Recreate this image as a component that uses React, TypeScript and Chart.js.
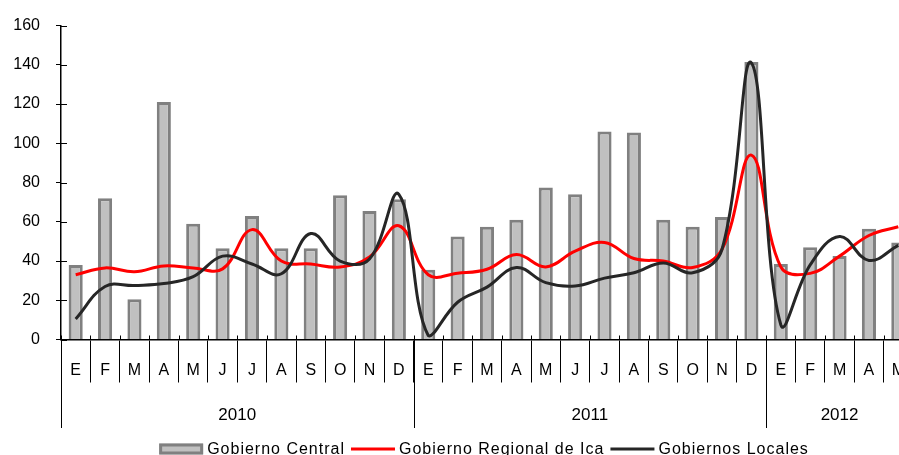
import React, { useEffect, useRef } from "react";
import { Chart, registerables } from "chart.js";

Chart.register(...registerables);

// Category (month) labels: 2010 E..D, 2011 E..D, 2012 E..M
const months: string[] = [
  "E", "F", "M", "A", "M", "J", "J", "A", "S", "O", "N", "D",
  "E", "F", "M", "A", "M", "J", "J", "A", "S", "O", "N", "D",
  "E", "F", "M", "A", "M",
];
const yearLabels: string[] = ["2010", "2011", "2012"];
const yearStarts: number[] = [0, 12, 24];
const yearCounts: number[] = [12, 12, 5];

const seriesNames: string[] = ["Gobierno Central", "Gobierno Regional de Ica", "Gobiernos Locales"];

const gobiernoCentral: number[] = [
  38, 72, 20.5, 121, 59, 46.5, 63, 46.5, 46.5, 73.5, 65.5, 71.5,
  35.5, 52.5, 57.5, 61, 77.5, 74, 106, 105.5, 61, 57.5, 62.5, 141.5,
  38.5, 47, 42.5, 56.5, 49.5,
];
const gobiernoRegional: number[] = [
  33, 36.5, 34.5, 37.5, 36.5, 36, 56, 40, 38.5, 37, 42, 58,
  33, 33.8, 35.8, 43.3, 37, 45, 49.5, 41.3, 40, 36.7, 46, 94,
  37, 33.7, 42.5, 53, 57.5,
];
const gobiernosLocales: number[] = [
  10.5, 27, 27.5, 28.5, 32, 42.5, 38.5, 33.5, 54, 40, 41, 74,
  2, 19, 26.7, 36.7, 29, 27.3, 31.3, 34, 39, 34, 46, 141,
  7.5, 38, 52.5, 40.3, 48,
];

const yMin = 0;
const yMax = 160;
const yStep = 20;

const FONT = '"Liberation Sans", Arial, sans-serif';

const extrasPlugin = {
  id: "extras",
  afterDraw(chart: any) {
    const ctx: CanvasRenderingContext2D = chart.ctx;
    const xs = chart.scales.x;
    const ys = chart.scales.y;
    const area = chart.chartArea;
    const half = (xs.getPixelForValue(1) - xs.getPixelForValue(0)) / 2;
    ctx.save();
    ctx.strokeStyle = "#000";
    ctx.lineWidth = 1;
    // y tick marks crossing into plot
    ys.ticks.forEach((t: any) => {
      const py = Math.round(ys.getPixelForValue(t.value)) + 0.5;
      ctx.beginPath();
      ctx.moveTo(area.left, py);
      ctx.lineTo(area.left + 6, py);
      ctx.stroke();
    });
    // x tick marks poking slightly above the axis
    for (let i = 0; i <= months.length; i++) {
      const px = Math.round(xs.getPixelForValue(0) - half + i * 2 * half) + 0.5;
      ctx.beginPath();
      ctx.moveTo(px, area.bottom - 4);
      ctx.lineTo(px, area.bottom);
      ctx.stroke();
    }
    // year separators and labels
    ctx.font = `17px ${FONT}`;
    ctx.fillStyle = "#000";
    ctx.textAlign = "center";
    ctx.textBaseline = "middle";
    yearStarts.forEach((s, i) => {
      const left = xs.getPixelForValue(s) - half;
      const right = xs.getPixelForValue(s + yearCounts[i] - 1) + half;
      const lx = Math.round(left) + 0.5;
      ctx.beginPath();
      ctx.moveTo(lx, area.bottom);
      ctx.lineTo(lx, area.bottom + 88.5);
      ctx.stroke();
      ctx.fillText(yearLabels[i], (left + right) / 2, area.bottom + 76);
    });
    // legend
    const ls = 1.0;
    ctx.font = `16px ${FONT}`;
    (ctx as any).letterSpacing = "0px";
    const items = chart.data.datasets.map((ds: any) => ({
      label: ds.label as string,
      isBar: ds.type === "bar",
      fill: ds.backgroundColor,
      stroke: ds.borderColor,
      lw: ds.borderWidth,
    }));
    const markerW = 44;
    const gapText = 4;
    const gapItem = 6;
    const widths = items.map((it: any) => ctx.measureText(it.label).width + ls * it.label.length);
    let total = 0;
    widths.forEach((w: number) => (total += markerW + gapText + w));
    total += gapItem * (items.length - 1);
    let cx = (area.left + area.right) / 2 - total / 2 - 3;
    const cy = area.bottom + 109.5;
    ctx.textAlign = "left";
    items.forEach((it: any, i: number) => {
      if (it.isBar) {
        ctx.fillStyle = it.fill;
        ctx.fillRect(cx, cy - 5.5, markerW, 11);
        ctx.strokeStyle = it.stroke;
        ctx.lineWidth = 3;
        ctx.strokeRect(cx + 1.5, cy - 4, markerW - 3, 8);
      } else {
        ctx.strokeStyle = it.stroke;
        ctx.lineWidth = it.lw;
        ctx.beginPath();
        ctx.moveTo(cx, cy);
        ctx.lineTo(cx + markerW, cy);
        ctx.stroke();
      }
      ctx.fillStyle = "#000";
      (ctx as any).letterSpacing = `${ls}px`;
      ctx.fillText(it.label, cx + markerW + gapText, cy + 1);
      (ctx as any).letterSpacing = "0px";
      cx += markerW + gapText + widths[i] + gapItem;
    });
    ctx.restore();
  },
};

export default function App() {
  const canvasRef = useRef<HTMLCanvasElement | null>(null);

  useEffect(() => {
    const canvas = canvasRef.current;
    if (!canvas) return;
    const chart = new Chart(canvas, {
      type: "bar",
      data: {
        labels: months,
        datasets: [
          {
            type: "bar",
            label: seriesNames[0],
            data: gobiernoCentral,
            backgroundColor: "#c0c0c0",
            borderColor: "#808080",
            borderWidth: 3,
            barPercentage: 0.48,
            categoryPercentage: 1,
            order: 3,
          },
          {
            type: "line",
            label: seriesNames[1],
            data: gobiernoRegional,
            borderColor: "#ff0000",
            backgroundColor: "#ff0000",
            borderWidth: 3,
            pointRadius: 0,
            tension: 0.4,
            fill: false,
            order: 2,
          },
          {
            type: "line",
            label: seriesNames[2],
            data: gobiernosLocales,
            borderColor: "#262626",
            backgroundColor: "#262626",
            borderWidth: 3,
            pointRadius: 0,
            tension: 0.4,
            fill: false,
            order: 1,
          },
        ] as any,
      },
      options: {
        animation: false,
        responsive: false,
        devicePixelRatio: 1,
        layout: { padding: { top: 20, left: 0, right: 0, bottom: 0 } },
        plugins: {
          legend: { display: false },
          tooltip: { enabled: false },
        },
        scales: {
          x: {
            type: "category",
            offset: true,
            grid: {
              offset: true,
              drawOnChartArea: false,
              drawTicks: true,
              tickLength: 43,
              color: "#000",
              lineWidth: 1,
            },
            border: { display: true, color: "#000", width: 1.5 },
            ticks: {
              padding: -21.6,
              autoSkip: false,
              maxRotation: 0,
              color: "#000",
              font: { family: FONT, size: 16 },
            },
            afterFit: (s: any) => {
              s.height = 115.5;
            },
          },
          y: {
            min: yMin,
            max: yMax,
            grid: {
              drawOnChartArea: false,
              drawTicks: true,
              tickLength: 5,
              color: "#000",
              lineWidth: 1,
            },
            border: { display: true, color: "#000", width: 1.5 },
            ticks: {
              stepSize: yStep,
              padding: 16,
              color: "#000",
              font: { family: FONT, size: 16 },
            },
            afterFit: (s: any) => {
              s.width = 61;
            },
          },
        },
      } as any,
      plugins: [extrasPlugin],
    });
    return () => chart.destroy();
  }, []);

  return (
    <div
      style={{
        position: "absolute",
        left: 0,
        top: 0,
        width: 899,
        height: 455,
        overflow: "hidden",
        background: "#fff",
      }}
    >
      <canvas
        ref={canvasRef}
        width={913}
        height={455}
        style={{ display: "block", width: 913, height: 455 }}
      />
    </div>
  );
}
